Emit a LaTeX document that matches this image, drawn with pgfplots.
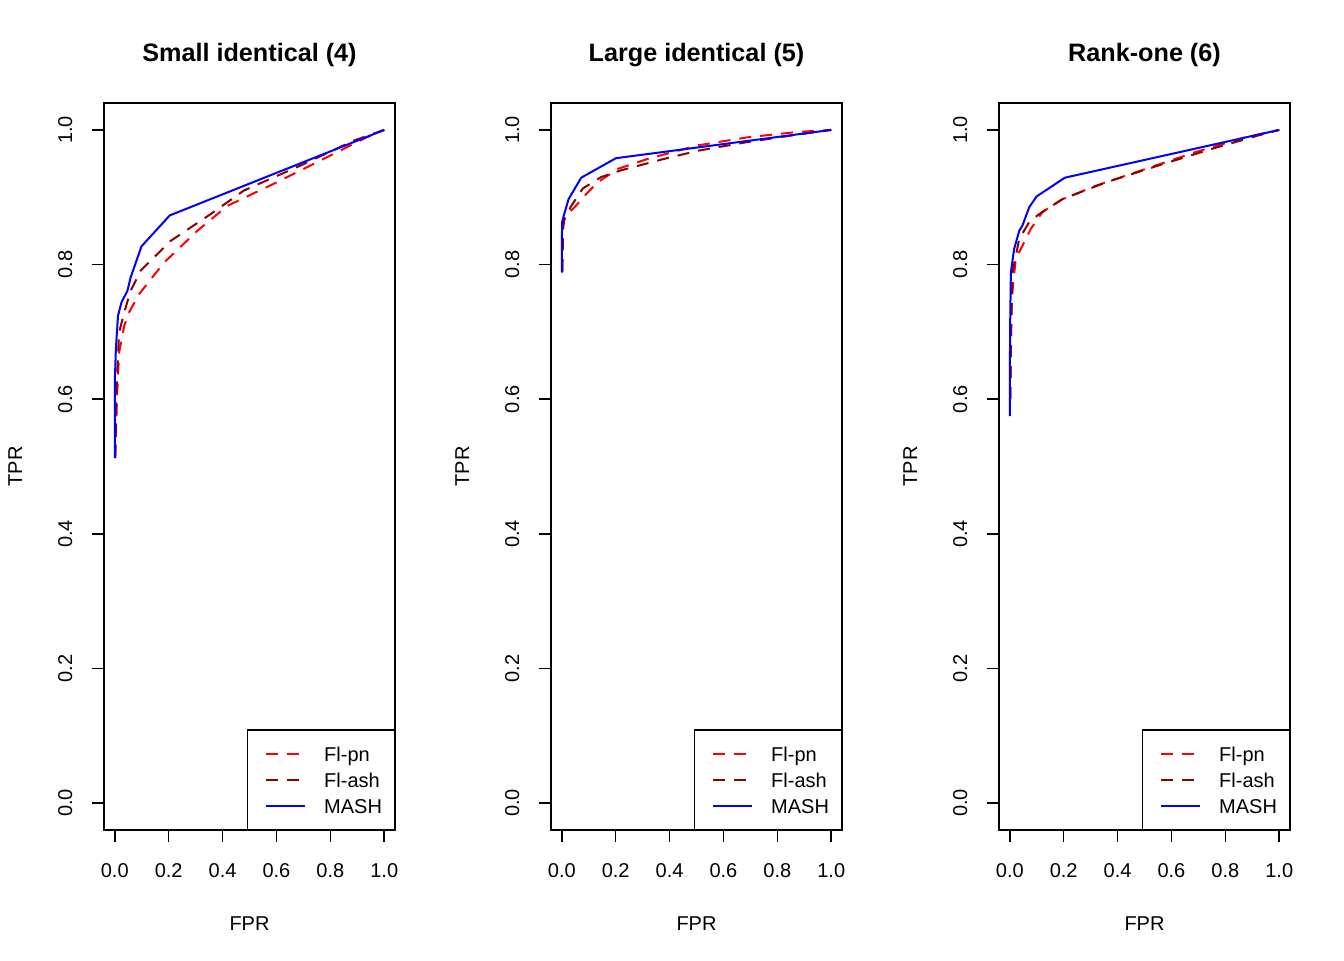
\documentclass[border=0pt]{standalone}
\usepackage{fontspec}
\setmainfont{Liberation Sans}
\usepackage{pgfplots}
\pgfplotsset{compat=1.18}
\usetikzlibrary{calc}
\definecolor{flpn}{HTML}{FF0000}
\definecolor{flash}{HTML}{8B0000}
\definecolor{mash}{HTML}{0000FF}

\pgfplotsset{
  rpanel/.style={
    scale only axis, width=145.5pt, height=363.5pt, anchor=south west,
    xmin=-0.04, xmax=1.04, ymin=-0.04, ymax=1.04,
    xtick={0,0.2,0.4,0.6,0.8,1}, ytick={0,0.2,0.4,0.6,0.8,1},
    tick pos=left, tick align=outside, major tick length=6pt,
    tick style={black, line width=0.8pt},
    axis line style={line width=0.8pt},
    /pgf/number format/fixed, /pgf/number format/fixed zerofill,
    /pgf/number format/precision=1, /pgf/number format/assume math mode=true,
    ticklabel style={font=\fontsize{10}{12}\selectfont},
    xticklabel style={anchor=base, yshift=-17.5pt},
    yticklabel style={xshift=-9.9pt, rotate=90, anchor=base},
    xlabel={FPR}, ylabel={TPR},
    label style={font=\fontsize{10}{12}\selectfont},
    xlabel style={at={(axis description cs:0.5,0)}, anchor=base, yshift=-50pt},
    ylabel style={at={($(axis description cs:0,0.5)+(-40.9pt,0)$)}, anchor=base},
    title style={at={(axis description cs:0.5,1)}, anchor=base, yshift=14.5pt,
      font=\bfseries\fontsize{12.6}{14}\selectfont},
    legend style={at={(axis description cs:1,0)}, anchor=south east,
      draw=black, line width=0.8pt, fill=white, outer sep=0pt,
      font=\fontsize{10}{12}\selectfont,
      inner xsep=6.5pt, inner ysep=5.5pt, row sep=0pt,
      cells={anchor=west},
      nodes={inner sep=0pt, text height=10pt, text depth=3pt},
      /tikz/every odd column/.append style={column sep=9pt}},
    legend image code/.code={
      \path[draw=none, fill=none] (-3pt,-2pt) rectangle (19.5pt,2pt);
      \draw[#1, line width=0.75pt] (0pt,0pt) -- (19.5pt,0pt);
    },
  },
  pn/.style={color=flpn, line width=1pt, dash pattern=on 6pt off 4.5pt},
  ash/.style={color=flash, line width=1pt, dash pattern=on 6pt off 4.5pt},
  ms/.style={color=mash, line width=1pt},
}

\begin{document}
\begin{tikzpicture}
\path[use as bounding box] (0pt,0pt) rectangle (672pt,480pt);

% panel 1
\begin{axis}[rpanel, at={(52pt,65pt)}, title={Small identical (4)}]
\addplot[pn] coordinates {(0.002,0.512) (0.008,0.6) (0.016,0.669) (0.035,0.709) (0.053,0.729) (0.09,0.756) (0.183,0.803) (0.306,0.85) (0.417,0.887) (0.59,0.92) (0.775,0.957) (0.935,0.989) (1,1)};
\addplot[ash] coordinates {(0.002,0.515) (0.007,0.62) (0.016,0.699) (0.035,0.729) (0.059,0.761) (0.096,0.791) (0.207,0.835) (0.356,0.875) (0.479,0.91) (0.689,0.947) (0.886,0.984) (1,1)};
\addplot[ms] coordinates {(0,0.513) (0,0.625) (0.004,0.674) (0.012,0.724) (0.025,0.744) (0.047,0.761) (0.059,0.781) (0.099,0.827) (0.204,0.873) (1,1)};
\legend{Fl-pn, Fl-ash, MASH}
\end{axis}

% panel 2
\begin{axis}[rpanel, at={(275.5pt,65pt)}, title={Large identical (5)}]
\addplot[pn] coordinates {(0.002,0.79) (0.005,0.86) (0.01,0.87) (0.047,0.885) (0.096,0.907) (0.133,0.922) (0.207,0.942) (0.319,0.957) (0.504,0.977) (0.689,0.989) (0.874,0.997) (1,1)};
\addplot[ash] coordinates {(0.002,0.79) (0.005,0.855) (0.01,0.867) (0.035,0.887) (0.078,0.913) (0.146,0.93) (0.22,0.94) (0.38,0.957) (0.504,0.969) (0.689,0.982) (0.874,0.993) (1,1)};
\addplot[ms] coordinates {(0,0.788) (0.001,0.863) (0.007,0.872) (0.025,0.897) (0.047,0.912) (0.072,0.929) (0.201,0.958) (1,1)};
\legend{Fl-pn, Fl-ash, MASH}
\end{axis}

% panel 3
\begin{axis}[rpanel, at={(499.5pt,65pt)}, title={Rank-one (6)}]
\addplot[pn] coordinates {(0.002,0.6) (0.004,0.68) (0.007,0.749) (0.022,0.808) (0.047,0.828) (0.078,0.853) (0.121,0.878) (0.195,0.897) (0.319,0.917) (0.504,0.942) (0.689,0.967) (0.874,0.989) (1,1)};
\addplot[ash] coordinates {(0.002,0.6) (0.005,0.7) (0.01,0.788) (0.035,0.838) (0.072,0.863) (0.109,0.875) (0.195,0.897) (0.356,0.922) (0.566,0.949) (0.751,0.972) (0.924,0.992) (1,1)};
\addplot[ms] coordinates {(0,0.575) (0.001,0.699) (0.004,0.788) (0.016,0.823) (0.035,0.85) (0.047,0.858) (0.072,0.885) (0.099,0.901) (0.204,0.929) (1,1)};
\legend{Fl-pn, Fl-ash, MASH}
\end{axis}
\end{tikzpicture}
\end{document}
